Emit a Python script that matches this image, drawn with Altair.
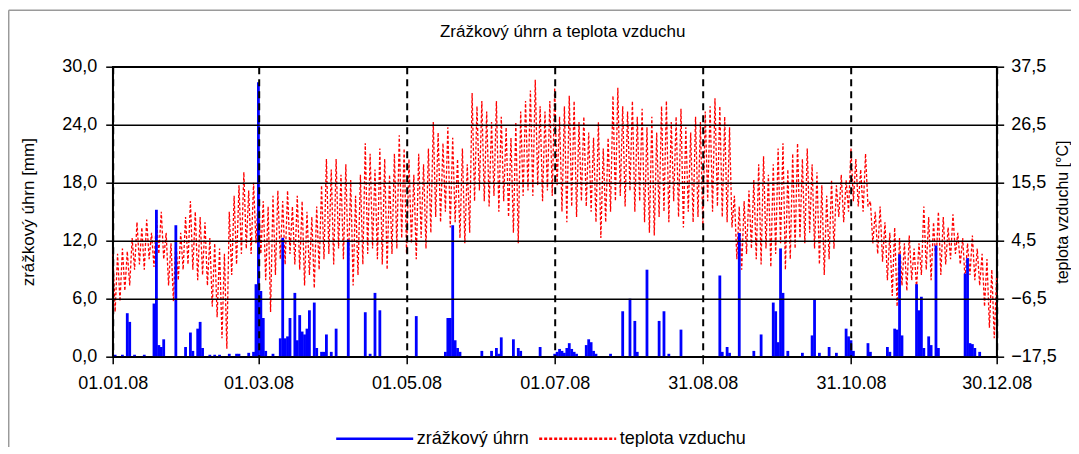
import altair as alt
import pandas as pd

# ---------------- data ----------------
x_ticks = [0, 60, 121, 182, 243, 304, 364]
x_labels = ["01.01.08", "01.03.08", "01.05.08", "01.07.08", "31.08.08", "31.10.08", "30.12.08"]
y_left_ticks = [0, 6, 12, 18, 24, 30]
y_right_ticks = [-17.5, -6.5, 4.5, 15.5, 26.5, 37.5]
serie = ["zrážkový úhrn", "teplota vzduchu"]

# precipitation: day of year (0 = 01.01.08) and daily total in mm
srazky_den = [1, 4, 6, 7, 9, 13, 17, 18, 19, 20, 21, 26, 30, 32, 33, 35, 36, 37, 40, 42,
              44, 48, 51, 52, 56, 58, 59, 60, 61, 62, 63, 66, 69, 70, 71, 72, 73, 75, 76, 77,
              78, 79, 80, 81, 83, 84, 86, 87, 88, 90, 92, 97, 104, 106, 108, 110, 125, 137, 138, 139,
              140, 141, 142, 143, 152, 156, 158, 159, 160, 165, 167, 168, 176, 182, 183, 184, 185, 186, 187, 188,
              189, 190, 191, 195, 196, 197, 198, 199, 205, 210, 213, 215, 216, 220, 225, 227, 229, 234, 250, 251,
              253, 254, 258, 264, 267, 272, 273, 274, 275, 276, 278, 284, 288, 289, 291, 295, 298, 302, 303, 304,
              305, 311, 312, 319, 320, 322, 323, 324, 325, 331, 332, 333, 334, 336, 337, 339, 340, 351, 352, 353,
              354, 355, 357]
srazky_mm = [0.2, 0.2, 4.5, 3.6, 0.2, 0.2, 5.5, 15.2, 1.2, 1.0, 1.8, 13.6, 1.0, 2.5, 0.6, 2.9, 3.6, 0.9, 0.2, 0.2,
             0.2, 0.3, 0.3, 0.3, 0.4, 0.5, 7.5, 28.4, 6.8, 4.0, 0.6, 0.3, 1.9, 12.3, 1.9, 2.1, 4.0, 6.6, 1.7, 4.3,
             2.6, 2.3, 2.9, 4.8, 5.6, 0.9, 0.5, 0.5, 2.3, 0.5, 2.9, 12.1, 4.6, 0.3, 6.6, 4.8, 4.2, 0.5, 4.0, 4.0,
             13.6, 1.7, 0.9, 0.5, 0.6, 0.6, 0.9, 0.3, 2.0, 1.8, 0.9, 0.6, 1.0, 0.3, 0.5, 0.8, 0.6, 0.4, 0.9, 1.4,
             0.8, 0.5, 0.3, 1.2, 1.8, 1.5, 0.6, 0.3, 0.3, 4.7, 6.0, 3.7, 0.5, 9.0, 3.7, 4.7, 0.3, 2.8, 8.4, 0.5,
             1.0, 0.4, 12.8, 0.6, 2.3, 5.6, 4.7, 1.5, 11.2, 6.6, 0.6, 0.4, 2.2, 5.9, 0.4, 1.0, 0.4, 2.9, 2.1, 1.7,
             0.6, 1.4, 0.5, 1.0, 0.5, 2.9, 2.8, 10.6, 2.2, 7.5, 4.8, 6.2, 0.9, 2.1, 1.2, 11.5, 0.9, 8.6, 10.2, 1.4,
             1.3, 0.9, 0.5]

# air temperature, one reading per day (day 0 .. 364), alternating day/night readings
teplota = [
    3, -9, 2, -7, 3, -5, 2.5, -4, 5, -1,
    8, 0, 7, -1, 8.5, 1, 6, -0.5, 9, 2,
    10, 1, 6, -4, 4, -7, 5, -3, 6, -1,
    9, 0, 12, -1, 10, -3, 9, -2, 8, -4,
    5, -8, 4, -10, 3, -14, 2, -16, 10, -2,
    13, 0, 15, 2, 17.5, 3, 14, 2, 15.5, 4,
    14, 2, 12, -3, 11, -9, 13, -2, 14, 1,
    12, 0, 14, 2, 11, 0, 13, -1, 12, -4,
    10, -2, 9, -4.5, 11, -1, 15, 1, 20, 2,
    18, 0, 20, 3, 17, 1, 19, -1, 16, -4,
    13, -2, 17, 0, 23, 2, 21, 3, 18, 1,
    22, 0, 20, -1, 17, 2, 21, 3, 24.5, 5,
    22, 2, 20, 4, 17, 1, 21, 5, 19, 3,
    22, 6, 27, 9, 25, 8, 23, 10, 26, 7,
    24, 8, 20, 5, 22, 4, 19, 6, 32.5, 12,
    30, 14, 31, 12, 29, 11, 27, 13, 31, 10,
    28, 12, 26, 9, 24, 6, 27, 4, 29, 13,
    31, 14, 33, 13, 35, 15, 30, 12, 29, 14,
    31, 13, 33.5, 15, 28, 10, 30, 8, 32, 11,
    31, 9, 27, 12, 28, 11, 25, 10, 24, 8,
    27, 5, 22, 8, 24, 10, 32, 12, 33.5, 13,
    30, 11, 29, 14, 31, 10, 28, 12, 29.5, 8,
    26, 6, 28, 5.5, 25, 9, 30, 10, 31, 8,
    27, 12, 28, 9, 29.5, 7, 26, 10, 25, 8,
    28, 9, 27, 7, 29, 12, 30, 10, 31.5, 11,
    30, 9, 28, 8, 26, 7, 13, 1, 11, -1,
    12, 2, 14, 3, 16, 1, 19, 0, 20.5, 3,
    17, -0.5, 19, 2, 22, 4, 23, -1, 18, 1,
    21, 3, 23, 5, 20, 4, 22, 6, 19, 3,
    17.5, 0, 15, -2, 13, 1, 16, 3, 15, 9,
    17, 8, 16, 10, 22, 12, 20, 11, 18, 10,
    21, 11, 12, 4, 10, 2, 11, 0.5, 8, -3,
    6, -6, 7, -8, 5, -4, 4, -5, 5.5, -3,
    3, -4.5, 4, -2, 11, -1, 9, -3, 8, 0,
    10, -2, 9, 0, 7, 1, 9.5, 2, 6, 0,
    5, -3, 4, -2, 5.5, -3, 3, -4, 2, -8,
    1, -12, -1, -14, -2,
]

df_p = pd.DataFrame({"den": srazky_den, "hodnota": srazky_mm, "serie": serie[0]})
df_t = pd.DataFrame({"den": list(range(len(teplota))), "hodnota": teplota, "serie": serie[1]})

# ---------------- styling ----------------
FONT = "Liberation Sans"
x_label_expr = ""
for v, l in zip(x_ticks, x_labels):
    x_label_expr += f"datum.value == {v} ? '{l}' : "
x_label_expr += "''"
comma_expr = "replace(format(datum.value, '.1f'), '.', ',')"

x_axis = alt.Axis(values=x_ticks, labelExpr=x_label_expr, title=None, grid=True,
                  gridColor="black", gridDash=[7, 5], gridWidth=2, gridOpacity=1,
                  labelFlush=False, labelOverlap=False, labelFontSize=18, labelColor="black",
                  labelPadding=11, tickSize=7, tickColor="black", tickWidth=1.5,
                  domainColor="black", domainWidth=1.5, zindex=1)
x_enc = alt.X("den:Q", scale=alt.Scale(domain=[0, 364], nice=False, zero=False, padding=0),
              axis=x_axis)

color_scale = alt.Scale(domain=serie, range=["#0000ff", "#ff0000"])
legend = alt.Legend(title=None, orient="none", legendX=222, legendY=332, direction="horizontal",
                    symbolType="stroke", symbolSize=5929, symbolStrokeWidth=2.5,
                    labelFontSize=18, labelFont=FONT, labelColor="black", labelOffset=2,
                    columnPadding=4, labelLimit=400)

line = alt.Chart(df_t).mark_line(strokeWidth=1.3, strokeDash=[2.5, 2]).encode(
    x=x_enc,
    y=alt.Y("hodnota:Q",
            scale=alt.Scale(domain=[-17.5, 37.5], nice=False, zero=False),
            axis=alt.Axis(orient="right", values=y_right_ticks, labelExpr=comma_expr,
                          title="teplota vzduchu [°C]", titleAngle=270, titleBaseline="top",
                          titleFontSize=16, titleFontWeight="normal", titleColor="black",
                          titlePadding=-2, labelFontSize=18, labelColor="black", labelPadding=7,
                          tickSize=7, tickColor="black", tickWidth=1.5, domainColor="black",
                          domainWidth=1.5, grid=False)),
    color=alt.Color("serie:N", scale=color_scale, legend=legend),
    strokeDash=alt.StrokeDash("serie:N", scale=alt.Scale(domain=serie, range=[[1, 0], [3, 2]]),
                              legend=legend),
    order=alt.Order("den:Q"),
)

bars = alt.Chart(df_p).mark_bar(size=2.8).encode(
    x=x_enc,
    y=alt.Y("hodnota:Q",
            scale=alt.Scale(domain=[0, 30], nice=False, zero=True),
            axis=alt.Axis(orient="left", values=y_left_ticks, labelExpr=comma_expr,
                          title="zrážkový úhrn [mm]", titleFontSize=17, titleFontWeight="normal",
                          titleColor="black", titlePadding=24, labelFontSize=18, labelColor="black",
                          labelPadding=9, tickSize=7, tickColor="black", tickWidth=1.5,
                          domainColor="black", domainWidth=1.5, grid=True, gridColor="black",
                          gridWidth=1.5, gridOpacity=1, zindex=1)),
    color=alt.Color("serie:N", scale=color_scale, legend=legend),
)

frame_df = pd.DataFrame({"k": [0]})
frame_left = alt.Chart(frame_df).mark_rule(color="#9a9a9a", strokeWidth=1.5).encode(
    x=alt.value(-104), y=alt.value(-56.5), y2=alt.value(400))
frame_top = alt.Chart(frame_df).mark_rule(color="#9a9a9a", strokeWidth=1.5).encode(
    x=alt.value(-104), x2=alt.value(980), y=alt.value(-56.5))

chart = alt.layer(line, bars, frame_left, frame_top).resolve_scale(
    y="independent"
).properties(
    width=884,
    height=290,
    title=alt.Title("Zrážkový úhrn a teplota vzduchu", fontSize=17, fontWeight="normal",
                    font=FONT, color="black", anchor="middle", offset=0, frame="group",
                    baseline="alphabetic", dx=8, dy=44.5),
    autosize=alt.AutoSizeParams(type="none"),
    padding={"left": 104.7, "top": 58.7, "right": 74, "bottom": 90},
).configure(
    font=FONT,
).configure_view(
    stroke="black", strokeWidth=1.5,
)

chart.save("out.html", embed_options={"renderer": "svg", "actions": False})
